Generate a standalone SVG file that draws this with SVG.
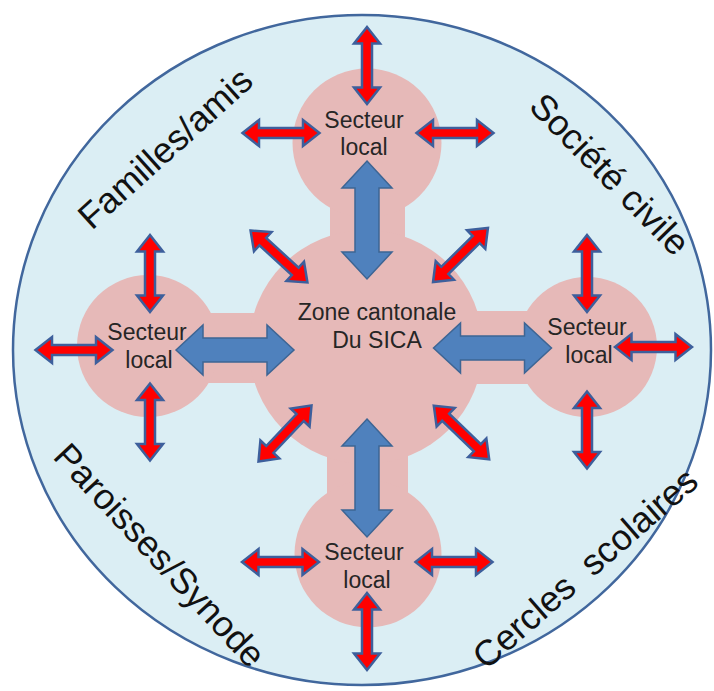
<svg xmlns="http://www.w3.org/2000/svg" xmlns:xlink="http://www.w3.org/1999/xlink" width="714" height="691" viewBox="0 0 714 691">
<style>
.bg{fill:#dbeef4;stroke:#41679d;stroke-width:2.5}
.pink{fill:#e6b9b8}
.lbl{font-family:"Liberation Sans",Arial,sans-serif;font-size:23px;fill:#262626;text-anchor:middle}
.outer{font-family:"Liberation Sans",Arial,sans-serif;font-size:36px;fill:#111;text-anchor:middle}
.red{fill:#ff0000;stroke:#3d5f9c;stroke-width:2.5;stroke-linejoin:miter}
.blue{fill:#4f81bd;stroke:#3d6594;stroke-width:1.5}
</style>
<defs>
<path id="ra" d="M -38.5 0 L -22 -13 L -22 -5 L 22 -5 L 22 -13 L 38.5 0 L 22 13 L 22 5 L -22 5 L -22 13 Z"/>
<path id="ba" d="M -59 0 L -32 -25 L -32 -12 L 32 -12 L 32 -25 L 59 0 L 32 25 L 32 12 L -32 12 L -32 25 Z"/>
</defs>
<ellipse class="bg" cx="362" cy="350" rx="349" ry="335"/>
<g id="pink-zones" class="pink">
<rect x="330" y="195" width="75" height="50"/>
<rect x="327" y="450" width="81" height="55"/>
<rect x="205" y="313" width="55" height="70"/>
<rect x="475" y="311" width="55" height="73"/>
</g>
<g id="zone-cantonale">
<circle class="pink" cx="366" cy="347" r="117"/>
</g>
<g id="secteur-top">
<circle class="pink" cx="367" cy="143" r="74.5"/>
</g>
<g id="secteur-left">
<circle class="pink" cx="148" cy="346" r="71"/>
</g>
<g id="secteur-right">
<circle class="pink" cx="587" cy="347" r="70"/>
</g>
<g id="secteur-bottom">
<circle class="pink" cx="368" cy="554" r="73.5"/>
</g>
<g id="connectors">
<use xlink:href="#ba" class="blue" transform="translate(367,220) rotate(90)"/>
<use xlink:href="#ba" class="blue" transform="translate(367,478) rotate(90)"/>
<use xlink:href="#ba" class="blue" transform="translate(235,350)"/>
<use xlink:href="#ba" class="blue" transform="translate(492.5,348)"/>
<use xlink:href="#ra" class="red" transform="translate(367,65.5) rotate(90)"/>
<use xlink:href="#ra" class="red" transform="translate(281,133)"/>
<use xlink:href="#ra" class="red" transform="translate(455,133)"/>
<use xlink:href="#ra" class="red" transform="translate(150,273.5) rotate(90)"/>
<use xlink:href="#ra" class="red" transform="translate(150,422) rotate(90)"/>
<use xlink:href="#ra" class="red" transform="translate(74,350)"/>
<use xlink:href="#ra" class="red" transform="translate(587,273.5) rotate(90)"/>
<use xlink:href="#ra" class="red" transform="translate(587,430) rotate(90)"/>
<use xlink:href="#ra" class="red" transform="translate(653.5,347)"/>
<use xlink:href="#ra" class="red" transform="translate(280.5,562)"/>
<use xlink:href="#ra" class="red" transform="translate(454,562)"/>
<use xlink:href="#ra" class="red" transform="translate(367,631.5) rotate(90)"/>
<use xlink:href="#ra" class="red" transform="translate(279,256.5) rotate(42.4)"/>
<use xlink:href="#ra" class="red" transform="translate(460.5,255) rotate(-44.5)"/>
<use xlink:href="#ra" class="red" transform="translate(285,433.5) rotate(-46.5)"/>
<use xlink:href="#ra" class="red" transform="translate(461.5,432.5) rotate(44)"/>
</g>
<g id="labels-nodes">
<text class="lbl" x="377" y="320">Zone cantonale</text>
<text class="lbl" x="377" y="348">Du SICA</text>
<text class="lbl" x="364" y="128">Secteur</text>
<text class="lbl" x="364" y="155">local</text>
<text class="lbl" x="147" y="340">Secteur</text>
<text class="lbl" x="149" y="368">local</text>
<text class="lbl" x="587" y="335">Secteur</text>
<text class="lbl" x="589" y="363">local</text>
<text class="lbl" x="364" y="560">Secteur</text>
<text class="lbl" x="367" y="588">local</text>
</g>
<g id="outer-labels">
<text class="outer" x="165" y="148" dy="0.35em" transform="rotate(-42 165 148)">Familles/amis</text>
<text class="outer" x="610" y="174" dy="0.35em" transform="rotate(45.5 610 174)">Société civile</text>
<text class="outer" x="160" y="555" dy="0.35em" transform="rotate(47 160 555)">Paroisses/Synode</text>
<text class="outer" x="585" y="568" dy="0.35em" transform="rotate(-41 585 568)">Cercles&#160; scolaires</text>
</g>
</svg>
